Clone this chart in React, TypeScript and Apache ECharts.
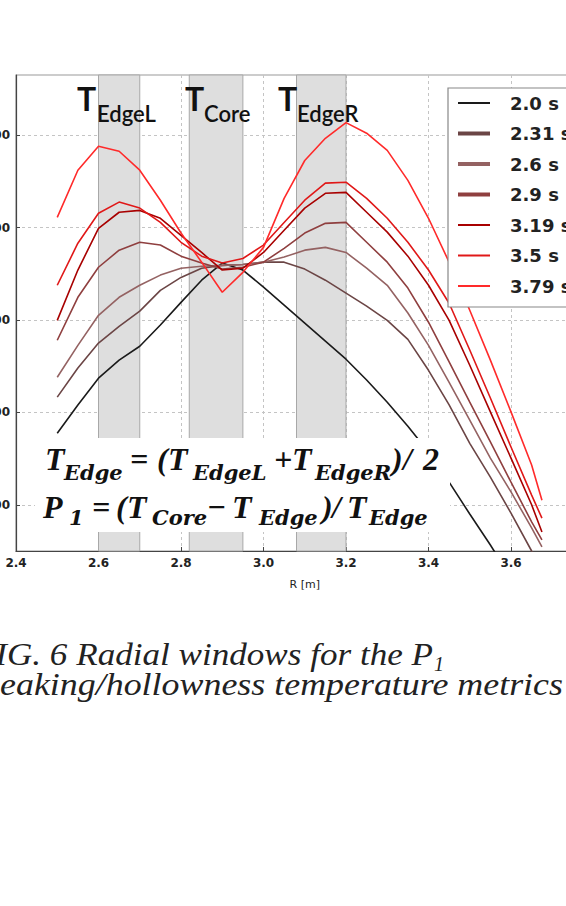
import React, { useEffect, useRef } from 'react';
import * as echarts from 'echarts';

// Radius grid [m]
const R = [2.5, 2.55, 2.6, 2.65, 2.7, 2.75, 2.8, 2.85, 2.9, 2.95, 3.0, 3.05, 3.1, 3.15, 3.2, 3.25, 3.3, 3.35, 3.4, 3.45, 3.5, 3.55, 3.6, 3.65, 3.675];
// Temperature profiles
const T_2_0 = [355, 416, 474, 513, 543, 589, 638, 686, 723, 708, 671, 632, 593, 554, 515, 470, 422, 370, 314, 249, 180, 113, 42, null, null];
const T_2_31 = [433, 496, 550, 586, 619, 664, 692, 712, 718, 720, 725, 725, 710, 686, 658, 630, 599, 558, 491, 416, 333, 260, 182, 100, 68];
const T_2_6 = [476, 545, 610, 649, 675, 697, 712, 716, 718, 720, 725, 736, 751, 757, 746, 712, 675, 615, 545, 465, 383, 301, 228, 150, 109];
const T_2_9 = [556, 649, 714, 751, 768, 762, 738, 723, 710, 714, 725, 755, 788, 809, 811, 768, 725, 669, 595, 509, 422, 336, 249, 163, 124];
const T_3_19 = [599, 708, 798, 833, 837, 820, 783, 746, 708, 712, 746, 794, 842, 874, 876, 833, 790, 738, 675, 599, 502, 401, 301, 200, 141];
const T_3_5 = [675, 766, 831, 855, 842, 811, 768, 738, 723, 733, 762, 811, 859, 896, 898, 863, 820, 768, 708, 636, 535, 431, 325, 221, 171];
const T_3_79 = [822, 924, 976, 965, 924, 859, 788, 725, 660, 703, 757, 863, 945, 993, 1027, 1004, 967, 902, 820, 725, 621, 513, 401, 286, 210];

const SERIES = [T_2_0, T_2_31, T_2_6, T_2_9, T_3_19, T_3_5, T_3_79];
const LABELS = ['2.0 s', '2.31 s', '2.6 s', '2.9 s', '3.19 s', '3.5 s', '3.79 s'];
const COLORS = ['#1a1a1a', '#6b4545', '#946262', '#8f3f3f', '#a80000', '#e01818', '#ff2a2a'];
const THICK = [false, true, true, true, false, false, false];

const Y_TICKS = [200, 400, 600, 800, 1000];
const BANDS = [[2.6, 2.7], [2.82, 2.95], [3.08, 3.2]];

const CAPTION1 = 'FIG. 6 Radial windows for the P';
const CAPTION1_VISIBLE = 'G. 6 Radial windows for the P';
const CAPTION2 = 'peaking/hollowness temperature metrics';
const CAPTION2_VISIBLE = 'eaking/hollowness temperature metrics';

const FORMULA1: [string, number, boolean][] = [
  ['T', 45, false], ['Edge', 64, true], ['=', 130, false], ['(', 157, false], ['T', 168, false],
  ['EdgeL', 193, true], ['+', 274, false], ['T', 292, false], ['EdgeR', 315, true], [')', 392, false],
  ['/', 403, false], ['2', 423, false],
];
const FORMULA2: [string, number, boolean][] = [
  ['P', 43, false], ['1', 69, true], ['=', 92, false], ['(', 116, false], ['T', 127, false],
  ['Core', 152, true], ['\u2212', 207, false], ['T', 232, false], ['Edge', 259, true], [')', 322, false],
  ['/', 332, false], ['T', 347, false], ['Edge', 369, true],
];
const TOP_LABELS: [string, number, number][] = [['EdgeL', 77, 97], ['Core', 185, 204], ['EdgeR', 278, 297]];

function measure(text: string, font: string): number {
  const c = document.createElement('canvas').getContext('2d');
  if (!c) return text.length * 10;
  c.font = font;
  return c.measureText(text).width;
}

export default function App() {
  const ref = useRef<HTMLDivElement>(null);
  useEffect(() => {
    if (!ref.current) return;
    const chart = echarts.init(ref.current, undefined, { renderer: 'svg' });

    const capFont = 'italic 32px "Liberation Serif"';
    const s1 = 426 / measure(CAPTION1_VISIBLE, capFont);
    const s2 = 563 / measure(CAPTION2_VISIBLE, capFont);

    const mathMain = { fontFamily: 'Liberation Serif', fontStyle: 'italic', fontWeight: 'bold', fontSize: 32, fill: '#111' };
    const mathSub = { fontFamily: 'DejaVu Serif', fontStyle: 'italic', fontWeight: 'bold', fontSize: 21, fill: '#111' };

    const formulaEls: any[] = [];
    const addFormula = (items: [string, number, boolean][], yMain: number, ySub: number) => {
      items.forEach(([t, x, sub]) => {
        formulaEls.push({
          type: 'text', x, y: sub ? ySub : yMain, z: 60,
          style: { text: t, ...(sub ? mathSub : mathMain), align: 'left', verticalAlign: 'middle' },
        });
      });
    };
    addFormula(FORMULA1, 459, 472);
    addFormula(FORMULA2, 507, 517);

    const topEls: any[] = [];
    TOP_LABELS.forEach(([sub, x, sx]) => {
      topEls.push({ type: 'text', x, y: 98, z: 60, style: { text: 'T', fontFamily: 'Lato', fontWeight: 'bold', fontSize: 32, fill: '#111', verticalAlign: 'middle' } });
      topEls.push({ type: 'text', x: sx, y: 113, z: 60, style: { text: sub, fontFamily: 'Lato', fontWeight: 600, fontSize: 22, fill: '#111', verticalAlign: 'middle' } });
    });

    const thinIcon = 'path://M0,0L0,0M0,1.5H32V3.5H0ZM0,5L0,5';
    const thickIcon = 'path://M0,0L0,0M0,0.5H32V4.5H0ZM0,5L0,5';

    const option: any = {
      animation: false,
      grid: {
        left: 16, top: 75, right: 26.5, bottom: 355, show: true, borderColor: '#999', borderWidth: 1.2,
        containLabel: false, outerBoundsMode: 'none',
      },
      xAxis: {
        type: 'value', min: 2.4, max: 3.8, interval: 0.2,
        axisLine: { show: true, lineStyle: { color: '#444', width: 1.2 } },
        axisTick: { show: true, inside: true, length: 4, lineStyle: { color: '#444' } },
        axisLabel: { formatter: (v: number) => v.toFixed(1), fontFamily: 'DejaVu Sans', fontWeight: 'bold', fontSize: 12, color: '#222', margin: 6 },
        splitLine: { show: true, lineStyle: { color: '#c4c4c4', type: [3, 3], width: 1 } },
        name: 'R [m]', nameLocation: 'middle', nameGap: 28,
        nameTextStyle: { fontFamily: 'DejaVu Sans', fontSize: 11, color: '#222' },
      },
      yAxis: {
        type: 'value', min: 100, max: 1130,
        axisLine: { show: true, lineStyle: { color: '#444', width: 1.2 } },
        axisTick: { show: true, inside: true, length: 4, customValues: Y_TICKS, lineStyle: { color: '#444' } },
        axisLabel: { customValues: Y_TICKS, formatter: (v: number) => String(v), fontFamily: 'DejaVu Sans', fontWeight: 'bold', fontSize: 12, color: '#222', margin: 6 },
        splitLine: { show: true, lineStyle: { color: '#c4c4c4', type: [3, 3], width: 1 } },
      },
      legend: {
        orient: 'vertical', left: 448, top: 88, z: 20,
        padding: [5, 10, 11, 10], itemGap: 10.5, itemWidth: 32, itemHeight: 5,
        backgroundColor: '#fff', borderColor: '#888', borderWidth: 1.2,
        textStyle: { fontFamily: 'DejaVu Sans', fontWeight: 'bold', fontSize: 18, color: '#222', lineHeight: 20, padding: [0, 0, 0, 15] },
        data: LABELS.map((n, i) => ({ name: n, icon: THICK[i] ? thickIcon : thinIcon })),
      },
      series: [
        {
          type: 'line', data: [], silent: true, z: 1,
          markArea: {
            silent: true,
            itemStyle: { color: '#dedede', borderColor: '#a8a8a8', borderWidth: 1 },
            data: BANDS.map(([a, b]) => [{ xAxis: a }, { xAxis: b }]),
          },
        },
        ...LABELS.map((name, i) => ({
          name, type: 'line', z: 3 + i, showSymbol: false, symbol: 'none', clip: true,
          data: R.map((r, j) => [r, SERIES[i][j]]),
          lineStyle: { width: 1.6, color: COLORS[i] },
          itemStyle: { color: COLORS[i] },
        })),
      ],
      graphic: [
        { type: 'rect', z: 50, shape: { x: 35, y: 438, width: 415, height: 94 }, style: { fill: '#fff' } },
        ...formulaEls,
        ...topEls,
        {
          type: 'text', x: 433, y: 654, scaleX: s1, z: 60,
          style: { text: CAPTION1, fontFamily: 'Liberation Serif', fontStyle: 'italic', fontSize: 32, fill: '#222', align: 'right', verticalAlign: 'middle' },
        },
        {
          type: 'text', x: 434, y: 664, z: 60,
          style: { text: '1', fontFamily: 'Liberation Serif', fontStyle: 'italic', fontSize: 20, fill: '#222', align: 'left', verticalAlign: 'middle' },
        },
        {
          type: 'text', x: 563, y: 684, scaleX: s2, z: 60,
          style: { text: CAPTION2, fontFamily: 'Liberation Serif', fontStyle: 'italic', fontSize: 32, fill: '#222', align: 'right', verticalAlign: 'middle' },
        },
      ],
    };
    chart.setOption(option);
    return () => chart.dispose();
  }, []);

  return (
    <div style={{ position: 'fixed', left: 0, top: 0, width: 566, height: 906, overflow: 'hidden', background: '#fff' }}>
      <div ref={ref} style={{ width: 620, height: 906 }} />
    </div>
  );
}
